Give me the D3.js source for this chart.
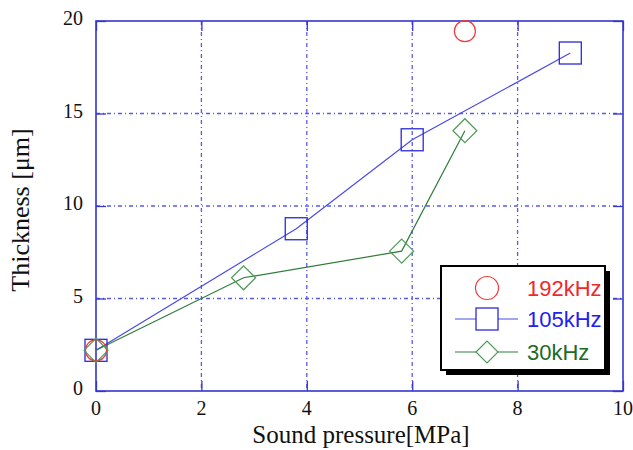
<!DOCTYPE html>
<html>
<head>
<meta charset="utf-8">
<script src="https://cdn.jsdelivr.net/npm/d3@7"></script>
<style>
  html, body { margin: 0; padding: 0; background: #fff; }
  svg { display: block; }
</style>
</head>
<body>
<svg id="chart" width="633" height="450"></svg>
<script>
// Coating thickness versus sound pressure for three drive frequencies
const xTicks = [0, 2, 4, 6, 8, 10];
const yTicks = [0, 5, 10, 15, 20];
const seriesNames = ["192kHz", "105kHz", "30kHz"];
const pressure192 = [0, 7.0];
const thick192 = [2.2, 19.45];
const pressure105 = [0, 3.8, 6.0, 9.0];
const thick105 = [2.2, 8.77, 13.58, 18.27];
const pressure30 = [0, 2.8, 5.8, 7.0];
const thick30 = [2.2, 6.12, 7.56, 14.07];

const svg = d3.select("#chart");
const margin = { left: 96, right: 10, top: 21, bottom: 59 };
const W = 633, H = 450;

const x = d3.scaleLinear().domain([0, 10]).range([margin.left, W - margin.right]);
const y = d3.scaleLinear().domain([0, 20]).range([H - margin.bottom, margin.top]);

const frameColor = "#3535d2";
const gridColor = "#5a5aea";

// grid lines (dash-dot)
const grid = svg.append("g");
grid.selectAll(".vg").data(xTicks.slice(1, -1)).join("line")
  .attr("x1", d => x(d)).attr("x2", d => x(d))
  .attr("y1", y(20)).attr("y2", y(0))
  .attr("stroke", gridColor).attr("stroke-width", 1.3)
  .attr("stroke-dasharray", "4,3,1,3");
grid.selectAll(".hg").data(yTicks.slice(1, -1)).join("line")
  .attr("x1", x(0)).attr("x2", x(10))
  .attr("y1", d => y(d)).attr("y2", d => y(d))
  .attr("stroke", gridColor).attr("stroke-width", 1.3)
  .attr("stroke-dasharray", "4,3,1,3");

// inward tick marks on all four sides
const tickLen = 10;
const axes = svg.append("g");
axes.append("g").attr("transform", `translate(0,${y(0)})`)
  .call(d3.axisBottom(x).tickValues(xTicks).tickSize(-tickLen).tickFormat(""))
  .call(g => g.select(".domain").remove())
  .call(g => g.selectAll("line").attr("stroke", frameColor).attr("stroke-width", 1.3));
axes.append("g").attr("transform", `translate(0,${y(20)})`)
  .call(d3.axisTop(x).tickValues(xTicks).tickSize(-tickLen).tickFormat(""))
  .call(g => g.select(".domain").remove())
  .call(g => g.selectAll("line").attr("stroke", frameColor).attr("stroke-width", 1.3));
axes.append("g").attr("transform", `translate(${x(0)},0)`)
  .call(d3.axisLeft(y).tickValues(yTicks).tickSize(-tickLen).tickFormat(""))
  .call(g => g.select(".domain").remove())
  .call(g => g.selectAll("line").attr("stroke", frameColor).attr("stroke-width", 1.3));
axes.append("g").attr("transform", `translate(${x(10)},0)`)
  .call(d3.axisRight(y).tickValues(yTicks).tickSize(-tickLen).tickFormat(""))
  .call(g => g.select(".domain").remove())
  .call(g => g.selectAll("line").attr("stroke", frameColor).attr("stroke-width", 1.3));

// frame
svg.append("rect")
  .attr("x", x(0)).attr("y", y(20))
  .attr("width", x(10) - x(0)).attr("height", y(0) - y(20))
  .attr("fill", "none").attr("stroke", frameColor).attr("stroke-width", 1.6);

// tick labels
const serif = "'Liberation Serif', 'Times New Roman', serif";
svg.append("g").selectAll("text").data(xTicks).join("text")
  .attr("x", d => x(d)).attr("y", y(0) + 24)
  .attr("text-anchor", "middle")
  .attr("font-family", serif).attr("font-size", 20).attr("fill", "#111")
  .text(d => d);
svg.append("g").selectAll("text").data(yTicks).join("text")
  .attr("x", x(0) - 13).attr("y", d => y(d) + 4)
  .attr("text-anchor", "end")
  .attr("font-family", serif).attr("font-size", 20).attr("fill", "#111")
  .text(d => d);

// axis titles
svg.append("text")
  .attr("x", 361).attr("y", 443)
  .attr("text-anchor", "middle")
  .attr("font-family", serif).attr("font-size", 25).attr("fill", "#111")
  .text("Sound pressure[MPa]");
svg.append("text")
  .attr("transform", "translate(29,210) rotate(-90)")
  .attr("text-anchor", "middle")
  .attr("font-family", serif).attr("font-size", 26).attr("fill", "#111")
  .text("Thickness [μm]");

// series
const red = "#ee3b3b", blue = "#2a2ad8", blueLine = "#4a4ae6", green = "#2f7d3a", greenMark = "#4f9a5a";
const d105 = pressure105.map((p, i) => [p, thick105[i]]);
const d30 = pressure30.map((p, i) => [p, thick30[i]]);
const d192 = pressure192.map((p, i) => [p, thick192[i]]);
const line = d3.line().x(d => x(d[0])).y(d => y(d[1]));

const sq = 22, dia = 12;
svg.append("path").datum(d105).attr("d", line)
  .attr("fill", "none").attr("stroke", blueLine).attr("stroke-width", 1.2);
svg.append("path").datum(d30).attr("d", line)
  .attr("fill", "none").attr("stroke", green).attr("stroke-width", 1.2);

svg.append("g").selectAll("rect").data(d105).join("rect")
  .attr("x", d => x(d[0]) - sq / 2).attr("y", d => y(d[1]) - sq / 2)
  .attr("width", sq).attr("height", sq)
  .attr("fill", "none").attr("stroke", blue).attr("stroke-width", 1.3);
svg.append("g").selectAll("circle").data(d192).join("circle")
  .attr("cx", d => x(d[0])).attr("cy", d => y(d[1])).attr("r", 10.5)
  .attr("fill", "none").attr("stroke", red).attr("stroke-width", 1.2);
svg.append("g").selectAll("path").data(d30).join("path")
  .attr("d", d => { const cx = x(d[0]), cy = y(d[1]);
    return `M${cx - dia},${cy}L${cx},${cy - dia}L${cx + dia},${cy}L${cx},${cy + dia}Z`; })
  .attr("fill", "none").attr("stroke", greenMark).attr("stroke-width", 1.2);

// legend
const lg = svg.append("g");
const lx = 441, ly = 266, lw = 164, lh = 104;
lg.append("rect").attr("x", lx + 5).attr("y", ly + 5).attr("width", lw).attr("height", lh).attr("fill", "#000");
lg.append("rect").attr("x", lx).attr("y", ly).attr("width", lw).attr("height", lh)
  .attr("fill", "#fff").attr("stroke", "#000").attr("stroke-width", 2);
const rows = [288, 319, 352];
const mx = 487, textColors = ["#f02828", "#2020f0", "#1d6b22"];
lg.append("circle").attr("cx", mx).attr("cy", rows[0]).attr("r", 11.5)
  .attr("fill", "none").attr("stroke", red).attr("stroke-width", 1.2);
lg.append("line").attr("x1", 455).attr("x2", 518).attr("y1", rows[1]).attr("y2", rows[1])
  .attr("stroke", blueLine).attr("stroke-width", 1.2);
lg.append("rect").attr("x", mx - 11).attr("y", rows[1] - 11).attr("width", 22).attr("height", 22)
  .attr("fill", "#fff").attr("stroke", blue).attr("stroke-width", 1.3);
lg.append("line").attr("x1", 455).attr("x2", 518).attr("y1", rows[2]).attr("y2", rows[2])
  .attr("stroke", green).attr("stroke-width", 1.2);
lg.append("path")
  .attr("d", `M${mx - 11},${rows[2]}L${mx},${rows[2] - 11}L${mx + 11},${rows[2]}L${mx},${rows[2] + 11}Z`)
  .attr("fill", "#fff").attr("stroke", greenMark).attr("stroke-width", 1.2);
lg.selectAll("text.lab").data(seriesNames).join("text")
  .attr("class", "lab")
  .attr("x", 527).attr("y", (d, i) => rows[i] + 8)
  .attr("font-family", "'Liberation Sans Narrow', 'Liberation Sans', Arial, sans-serif")
  .attr("font-size", 22)
  .attr("fill", (d, i) => textColors[i])
  .text(d => d);
</script>
</body>
</html>
